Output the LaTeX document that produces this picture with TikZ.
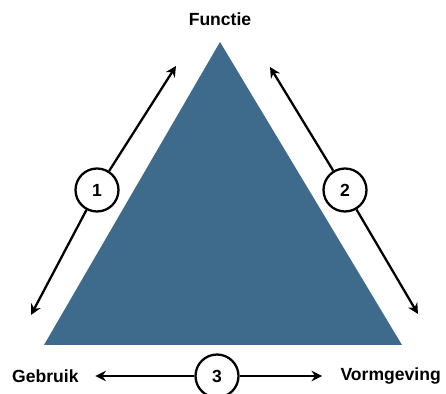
\documentclass[tikz,border=0pt]{standalone}
\usepackage{fontspec}
\setmainfont{Liberation Sans}
\usepackage{tikz}
\usetikzlibrary{arrows.meta, positioning}
\definecolor{trianglebg}{RGB}{62,106,139}

\begin{document}
\begin{tikzpicture}[x=0.02cm, y=-0.02cm,
    every node/.style={font=\fontsize{10}{12}\selectfont\bfseries},
    stepnum/.style={draw, circle, line width=1.3pt, minimum size=0.86cm, inner sep=0pt, fill=white},
    twoway/.style={{Stealth[length=6pt,width=6pt]}-, line width=1.3pt}]
    \useasboundingbox (0,0) rectangle (446,394);

    % triangle
    \coordinate (top) at (220,42);
    \coordinate (bl) at (44,345);
    \coordinate (br) at (402,345);
    \fill[trianglebg] (top) -- (bl) -- (br) -- cycle;

    % labels
    \node (functie) at (220,19) {Functie};
    \node[anchor=west] (gebruik) at (6,376) {Gebruik};
    \node[anchor=east] (vorm) at (447,376) {Vormgeving};

    % numbered circles
    \node[stepnum] (c1) at (97,190) {1};
    \node[stepnum] (c2) at (345,190) {2};
    \node[stepnum] (c3) at (217,376) {3};

    \coordinate (a1) at (176,66);
    \coordinate (b1) at (31,315);
    \coordinate (a2) at (270,67);
    \coordinate (b2) at (418,314);

    \draw[twoway] (a1) -- (c1);
    \draw[twoway] (b1) -- (c1);
    \draw[twoway] (a2) -- (c2);
    \draw[twoway] (b2) -- (c2);
    \draw[twoway, shorten <=6pt] (gebruik.east) -- (c3);
    \draw[twoway, shorten <=7pt] (vorm.west) -- (c3);
\end{tikzpicture}
\end{document}
